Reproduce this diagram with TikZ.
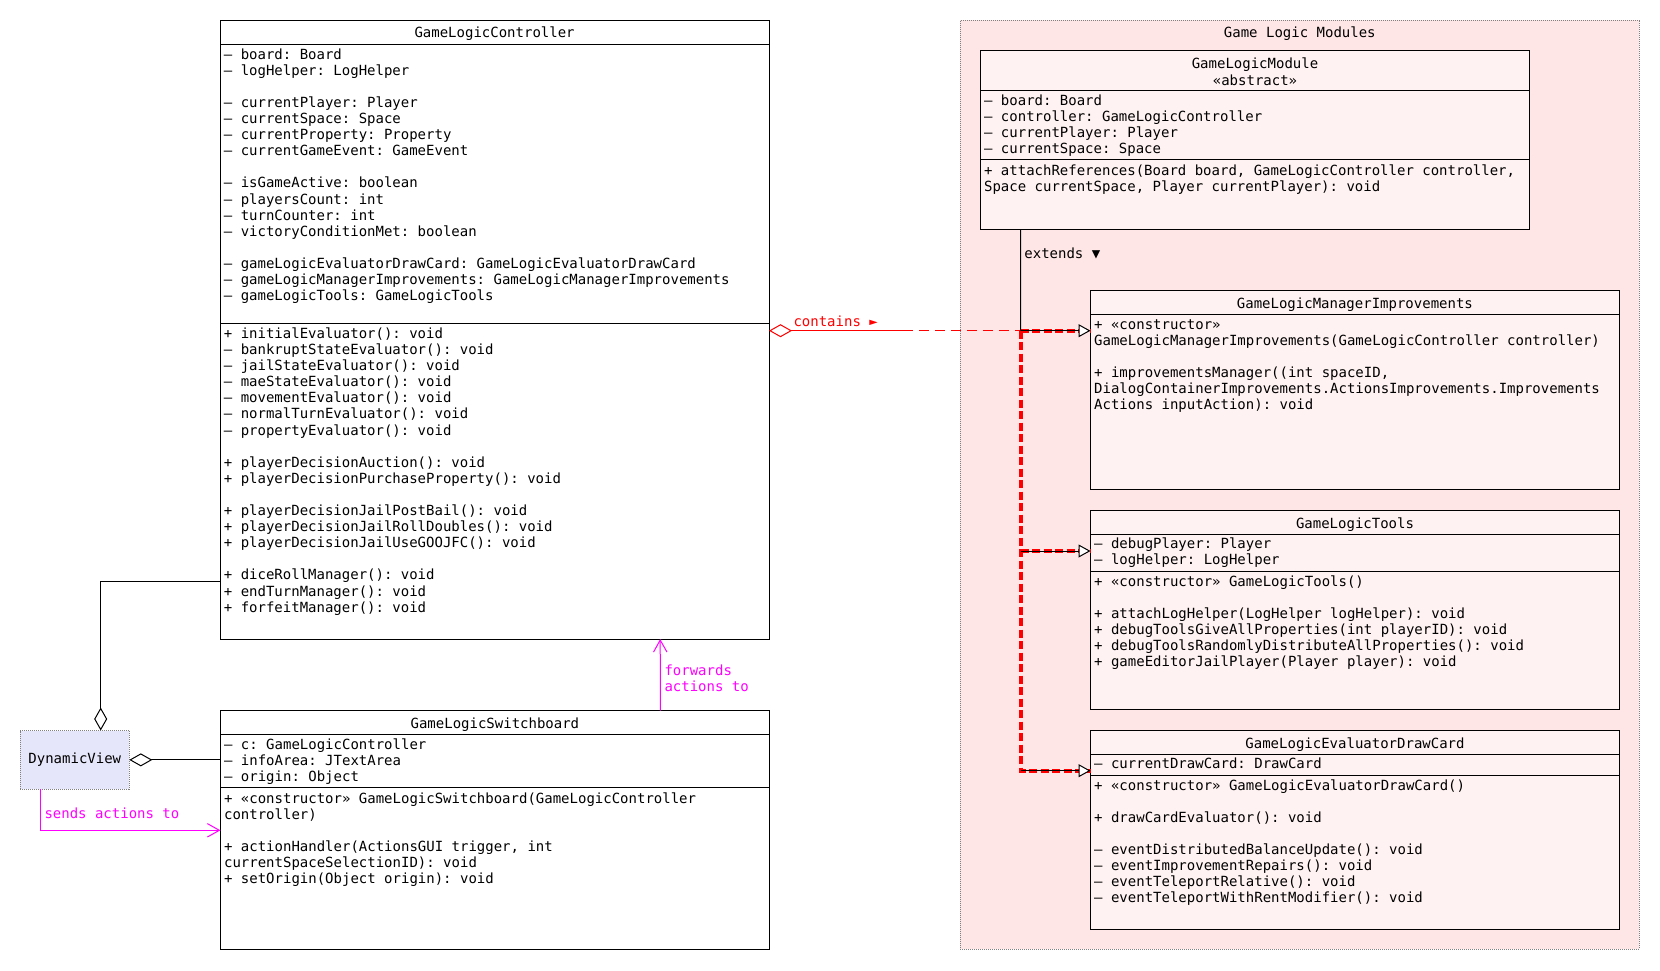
\documentclass[tikz,border=0pt]{standalone}
\usepackage{fontspec}
\usetikzlibrary{arrows.meta,calc}
\newfontfamily\umlfont{DejaVu Sans Mono}
\newcommand\umltext{\umlfont\fontsize{14pt}{16.1pt}\selectfont\frenchspacing}
\definecolor{pkgfill}{HTML}{FFE6E6}
\definecolor{clsfill}{HTML}{FFF2F2}
\definecolor{dvfill}{HTML}{E6E6FA}
\definecolor{mag}{HTML}{FF00FF}
\newcommand\hdiv[2]{\draw[divline] ($(#1.north west)+(0,#2)$) -- ($(#1.north east)+(0,#2)$);}
\begin{document}
\begin{tikzpicture}[x=1pt,y=-1pt,
  classbox/.style={draw=black, line width=1pt, anchor=north west, inner sep=0pt, outer sep=0pt},
  dotbox/.style={draw=gray, line width=0.8pt, dash pattern=on 1pt off 1pt, inner sep=0pt, outer sep=0pt},
  mem/.style={anchor=north west, inner sep=0pt, align=left, font=\umltext},
  ttl/.style={anchor=base, inner sep=0pt, font=\umltext},
  lbl/.style={anchor=base west, inner sep=0pt, font=\umltext},
  divline/.style={line width=1pt},
  link/.style={line width=1pt},
  aggtip/.style={{Diamond[open,fill=white,length=23pt,width=13pt]}-},
  gentip/.style={-{Triangle[open,fill=white,length=12pt,width=13pt]}},
  opentip/.style={-{Straight Barb[length=12pt,width=13.4pt]}},
  thickred/.style={red, line width=4pt, dash pattern=on 8pt off 3.5pt},
]
\useasboundingbox (0,0) rectangle (1660,970);
\fill[white] (0,0) rectangle (1660,970);

% package
\node[dotbox, anchor=north west, fill=pkgfill, minimum width=679.1pt, minimum height=929.3pt] (pkg) at (960.3,20) {};
\node[ttl] (pkgt) at (1299.8,37.7) {Game Logic Modules};

% GameLogicController
\node[classbox, fill=white, minimum width=548.8pt, minimum height=618.8pt] (glc) at (220.2,20.2) {};
\hdiv{glc}{24.1}
\hdiv{glc}{303.1}
\node[ttl] (glct) at (494.6,37.4) {GameLogicController};
\node[mem] (glca) at (223.7,47.7) {\strut – board: Board\\
– logHelper: LogHelper\\[16.1pt]
– currentPlayer: Player\\
– currentSpace: Space\\
– currentProperty: Property\\
– currentGameEvent: GameEvent\\[16.1pt]
– isGameActive: boolean\\
– playersCount: int\\
– turnCounter: int\\
– victoryConditionMet: boolean\\[16.1pt]
– gameLogicEvaluatorDrawCard: GameLogicEvaluatorDrawCard\\
– gameLogicManagerImprovements: GameLogicManagerImprovements\\
– gameLogicTools: GameLogicTools};
\node[mem] (glcm) at (223.7,327) {\strut + initialEvaluator(): void\\
– bankruptStateEvaluator(): void\\
– jailStateEvaluator(): void\\
– maeStateEvaluator(): void\\
– movementEvaluator(): void\\
– normalTurnEvaluator(): void\\
– propertyEvaluator(): void\\[16.1pt]
+ playerDecisionAuction(): void\\
+ playerDecisionPurchaseProperty(): void\\[16.1pt]
+ playerDecisionJailPostBail(): void\\
+ playerDecisionJailRollDoubles(): void\\
+ playerDecisionJailUseGOOJFC(): void\\[16.1pt]
+ diceRollManager(): void\\
+ endTurnManager(): void\\
+ forfeitManager(): void};

% GameLogicSwitchboard
\node[classbox, fill=white, minimum width=549pt, minimum height=238.8pt] (gls) at (220.4,710.5) {};
\hdiv{gls}{24.2}
\hdiv{gls}{76.8}
\node[ttl] (glst) at (494.9,728) {GameLogicSwitchboard};
\node[mem] (glsa) at (223.9,738) {\strut – c: GameLogicController\\
– infoArea: JTextArea\\
– origin: Object};
\node[mem] (glsm) at (223.9,791.7) {\strut + «constructor» GameLogicSwitchboard(GameLogicController\\
controller)\\[16.1pt]
+ actionHandler(ActionsGUI trigger, int\\
currentSpaceSelectionID): void\\
+ setOrigin(Object origin): void};

% DynamicView
\node[dotbox, fill=dvfill, minimum width=109pt, minimum height=58.7pt, font=\umltext] (dv) at (74.8,759.85) {DynamicView};

% GameLogicModule
\node[classbox, fill=clsfill, minimum width=549.1pt, minimum height=178.7pt] (glm) at (980.4,50.3) {};
\hdiv{glm}{40}
\hdiv{glm}{109.4}
\node[mem, align=center, anchor=north] (glmt) at (1255,57.5) {\strut GameLogicModule\\«abstract»};
\node[mem] (glma) at (983.9,94.2) {\strut – board: Board\\
– controller: GameLogicController\\
– currentPlayer: Player\\
– currentSpace: Space};
\node[mem] (glmm) at (983.9,164.4) {\strut + attachReferences(Board board, GameLogicController controller,\\
Space currentSpace, Player currentPlayer): void};

% GameLogicManagerImprovements
\node[classbox, fill=clsfill, minimum width=528.8pt, minimum height=198.6pt] (glmi) at (1090.5,290.7) {};
\hdiv{glmi}{23.6}
\node[ttl] (glmit) at (1354.9,308.3) {GameLogicManagerImprovements};
\node[mem] (glmim) at (1094,318) {\strut + «constructor»\\
GameLogicManagerImprovements(GameLogicController controller)\\[16.1pt]
+ improvementsManager((int spaceID,\\
DialogContainerImprovements.ActionsImprovements.Improvements\\
Actions inputAction): void};

% GameLogicTools
\node[classbox, fill=clsfill, minimum width=529pt, minimum height=198.6pt] (glt) at (1090.5,510.7) {};
\hdiv{glt}{23.6}
\hdiv{glt}{60.6}
\node[ttl] (gltt) at (1355,528.3) {GameLogicTools};
\node[mem] (glta) at (1094,537.4) {\strut – debugPlayer: Player\\
– logHelper: LogHelper};
\node[mem] (gltm) at (1094,575) {\strut + «constructor» GameLogicTools()\\[16.1pt]
+ attachLogHelper(LogHelper logHelper): void\\
+ debugToolsGiveAllProperties(int playerID): void\\
+ debugToolsRandomlyDistributeAllProperties(): void\\
+ gameEditorJailPlayer(Player player): void};

% GameLogicEvaluatorDrawCard
\node[classbox, fill=clsfill, minimum width=529pt, minimum height=198.6pt] (gle) at (1090.5,730.7) {};
\hdiv{gle}{23.6}
\hdiv{gle}{44.6}
\node[ttl] (glet) at (1355,748.3) {GameLogicEvaluatorDrawCard};
\node[mem] (glea) at (1094,757.4) {\strut – currentDrawCard: DrawCard};
\node[mem] (glem) at (1094,778.7) {\strut + «constructor» GameLogicEvaluatorDrawCard()\\[16.1pt]
+ drawCardEvaluator(): void\\[16.1pt]
– eventDistributedBalanceUpdate(): void\\
– eventImprovementRepairs(): void\\
– eventTeleportRelative(): void\\
– eventTeleportWithRentModifier(): void};

% junction coordinates
\coordinate (ext0) at ($(glm.south west)+(40.2,0)$);
\coordinate (jA) at (1020.6,330.7);
\coordinate (jB) at (1020.6,551);
\coordinate (jC) at (1020.6,770.7);
\coordinate (cs) at (903.3,330.7);

% contains (red)
\draw[link, red, aggtip] (glc.east |- jA) -- (cs);
\draw[link, red, dash pattern=on 10pt off 6pt] (cs) -- (jA);
\draw[thickred] (jA) -- (glmi.west |- jA);
\draw[thickred] (jA) -- (jC) -- (gle.west |- jC);
\draw[thickred] (jB) -- (glt.west |- jB);
\node[lbl, text=red] (lcont) at (793.3,326) {contains ►};

% extends (black)
\draw[link] (ext0) -- (jA);
\draw[link, gentip] (jA) -- (glmi.west |- jA);
\draw[link, gentip] (jB) -- (glt.west |- jB);
\draw[link, gentip] (jC) -- (gle.west |- jC);
\node[lbl] (lext) at (1024.2,258.7) {extends ▼};

% DynamicView aggregations
\coordinate (dvA) at ($(dv.north west)+(80.4,0)$);
\draw[link, aggtip] (dvA) |- ($(glc.south west)+(0,-58)$);
\draw[link, aggtip] (dv.east) -- (dv.east -| gls.west);

% sends actions to
\coordinate (dvS) at ($(dv.south west)+(20,0)$);
\draw[link, mag, opentip] (dvS) |- ($(gls.north west)+(0,119.8)$);
\node[lbl, text=mag] (lsend) at (44.3,818.3) {sends actions to};

% forwards actions to
\draw[link, mag, opentip] ($(gls.north west)+(440,0)$) -- ($(glc.south west)+(440,0)$);
\node[mem, text=mag] (lfwd) at (664.3,663.7) {\strut forwards\\actions to};
\end{tikzpicture}
\end{document}
